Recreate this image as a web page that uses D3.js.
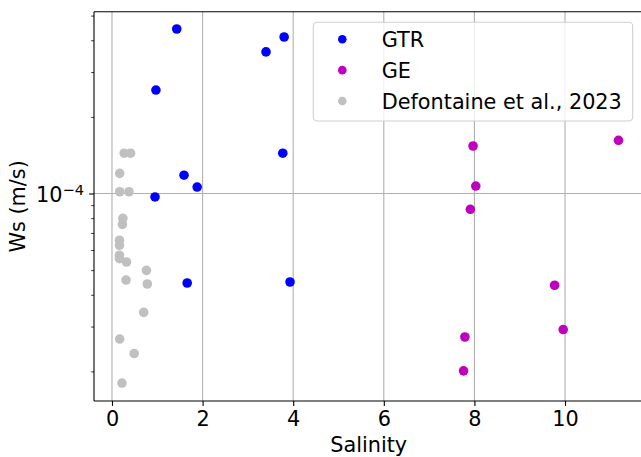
<!DOCTYPE html>
<html>
<head>
<meta charset="utf-8">
<script src="https://cdn.jsdelivr.net/npm/d3@7"></script>
<style>
  html, body { margin: 0; padding: 0; background: #fff; }
  svg { display: block; font-family: "DejaVu Sans", sans-serif; }
</style>
</head>
<body>
<svg id="chart" width="641" height="457"></svg>
<script>
// ---- Data ----
const gtrSalinity = [1.43, 3.80, 3.40, 0.97, 3.77, 1.59, 1.88, 0.95, 1.66, 3.93];
const gtrWs       = [4.43e-4, 4.12e-4, 3.60e-4, 2.55e-4, 1.44e-4, 1.18e-4, 1.06e-4, 9.69e-5, 4.45e-5, 4.49e-5];

const geSalinity = [7.97, 8.03, 7.91, 11.18, 9.77, 9.96, 7.79, 7.76];
const geWs       = [1.537e-4, 1.07e-4, 8.67e-5, 1.618e-4, 4.36e-5, 2.92e-5, 2.73e-5, 2.01e-5];

const defSalinity = [0.27, 0.41, 0.17, 0.17, 0.375, 0.24, 0.23, 0.165, 0.165, 0.165, 0.165, 0.32, 0.76, 0.31, 0.78, 0.70, 0.17, 0.49, 0.22];
const defWs       = [1.44e-4, 1.44e-4, 1.20e-4, 1.016e-4, 1.016e-4, 7.99e-5, 7.56e-5, 6.55e-5, 6.26e-5, 5.72e-5, 5.55e-5, 5.38e-5, 4.99e-5, 4.57e-5, 4.41e-5, 3.41e-5, 2.68e-5, 2.35e-5, 1.80e-5];

const seriesNames  = ["GTR", "GE", "Defontaine et al., 2023"];
const seriesColors = ["#0000ff", "#bf00bf", "#c0c0c0"];

const xTicks = [0, 2, 4, 6, 8, 10];
const yMajorTicks = [1e-4];
const yMinorTicks = [2e-5, 3e-5, 4e-5, 5e-5, 6e-5, 7e-5, 8e-5, 9e-5, 2e-4, 3e-4, 4e-4, 5e-4];
const xLabel = "Salinity";
const yLabel = "Ws (m/s)";

// ---- Layout ----
const L = 94, R = 643.4, T = 11.7, B = 401;
const FS = 20.8;
const svg = d3.select("#chart");

const x = d3.scaleLinear().domain([-0.397, 11.73]).range([L, R]);
const y = d3.scaleLog().domain([1.53e-5, 5.18e-4]).range([B, T]);

// grid
const grid = svg.append("g");
grid.selectAll("line.gx").data(xTicks).enter().append("line")
  .attr("x1", d => x(d)).attr("x2", d => x(d)).attr("y1", T).attr("y2", B)
  .attr("stroke", "#b0b0b0").attr("stroke-width", 1.1);
grid.selectAll("line.gy").data(yMajorTicks).enter().append("line")
  .attr("x1", L).attr("x2", R).attr("y1", d => y(d)).attr("y2", d => y(d))
  .attr("stroke", "#b0b0b0").attr("stroke-width", 1.1);

// points
const series = [
  {name: seriesNames[0], color: seriesColors[0], xs: gtrSalinity, ys: gtrWs},
  {name: seriesNames[1], color: seriesColors[1], xs: geSalinity, ys: geWs},
  {name: seriesNames[2], color: seriesColors[2], xs: defSalinity, ys: defWs}
];
const R_DOT = 4.8;
series.forEach(s => {
  const pts = s.xs.map((v, i) => [v, s.ys[i]]);
  svg.append("g").selectAll("circle").data(pts).enter().append("circle")
    .attr("cx", d => x(d[0])).attr("cy", d => y(d[1])).attr("r", R_DOT)
    .attr("fill", s.color);
});

// x axis
const xAxis = svg.append("g").attr("transform", `translate(0,${B})`)
  .call(d3.axisBottom(x).tickValues(xTicks).tickFormat(d3.format("d")).tickSize(4.9).tickPadding(5.5));
xAxis.select(".domain").remove();
xAxis.selectAll("line").attr("stroke", "#000").attr("stroke-width", 1.1);
xAxis.selectAll("text").attr("font-size", FS).attr("font-family", "DejaVu Sans").attr("fill", "#000");

// y axis major
const yAxis = svg.append("g").attr("transform", `translate(${L},0)`)
  .call(d3.axisLeft(y).tickValues(yMajorTicks).tickFormat(() => "").tickSize(4.9).tickPadding(4.9));
yAxis.select(".domain").remove();
yAxis.selectAll("line").attr("stroke", "#000").attr("stroke-width", 1.1);
yAxis.selectAll(".tick").each(function(d) {
  const t = d3.select(this).append("text")
    .attr("x", -10).attr("y", 8.4).attr("text-anchor", "end")
    .attr("font-size", FS).attr("fill", "#000").attr("font-family", "DejaVu Sans");
  const exp = Math.round(Math.log10(d));
  t.append("tspan").text("10");
  t.append("tspan").attr("dy", -7.5).attr("font-size", FS * 0.7).text("\u2212" + Math.abs(exp));
});

// y axis minor
const yMinor = svg.append("g").attr("transform", `translate(${L},0)`)
  .call(d3.axisLeft(y).tickValues(yMinorTicks).tickFormat(() => "").tickSize(2.8));
yMinor.select(".domain").remove();
yMinor.selectAll("line").attr("stroke", "#000").attr("stroke-width", 0.8);
yMinor.selectAll("text").remove();

// spines
svg.append("line").attr("x1", L).attr("x2", L).attr("y1", T).attr("y2", B).attr("stroke", "#000").attr("stroke-width", 1.1);
svg.append("line").attr("x1", L).attr("x2", R).attr("y1", B).attr("y2", B).attr("stroke", "#000").attr("stroke-width", 1.1);
svg.append("line").attr("x1", L).attr("x2", R).attr("y1", T).attr("y2", T).attr("stroke", "#000").attr("stroke-width", 1.1);
svg.append("line").attr("x1", R).attr("x2", R).attr("y1", T).attr("y2", B).attr("stroke", "#000").attr("stroke-width", 1.1);

// axis labels
svg.append("text").attr("x", (L + R) / 2).attr("y", 452).attr("text-anchor", "middle")
  .attr("font-size", FS).attr("fill", "#000").text(xLabel);
svg.append("text").attr("transform", `translate(25,${(T + B) / 2}) rotate(-90)`)
  .attr("text-anchor", "middle").attr("font-size", FS).attr("fill", "#000").text(yLabel);

// legend
const lg = svg.append("g");
lg.append("rect").attr("x", 313.3).attr("y", 22.3).attr("width", 319.4).attr("height", 98.7)
  .attr("rx", 4).attr("ry", 4).attr("fill", "#fff").attr("fill-opacity", 0.8)
  .attr("stroke", "#d0d0d0").attr("stroke-width", 1.1);
series.forEach((s, i) => {
  const cy = 39.3 + i * 30.85;
  lg.append("circle").attr("cx", 342.3).attr("cy", cy).attr("r", 4.3).attr("fill", s.color);
  lg.append("text").attr("x", 381.7).attr("y", cy + 8).attr("font-size", FS).attr("fill", "#000").text(s.name);
});
</script>
</body>
</html>
